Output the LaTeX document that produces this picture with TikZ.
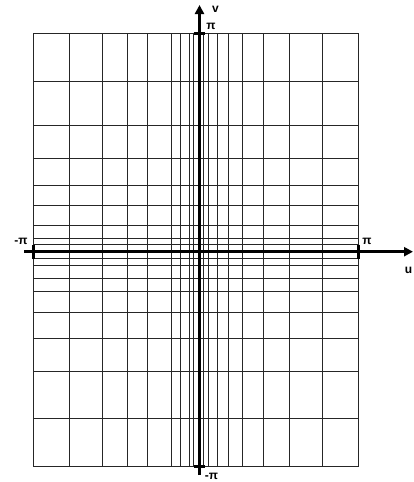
\documentclass[tikz,border=0pt]{standalone}
\usepackage{fontspec}
\setmainfont{Liberation Sans}
\usetikzlibrary{arrows.meta}
\begin{document}
\begin{tikzpicture}[x=1pt,y=-1pt,
  gridline/.style={line width=0.9pt,black!85},
  axisline/.style={line width=3pt,black,-{Triangle[length=9pt,width=9pt]}},
  tickmark/.style={line width=3pt,black},
  lab/.style={font=\bfseries\fontsize{12}{13}\selectfont,inner sep=0pt}]
\useasboundingbox (0,0) rectangle (413,482);
% vertical grid lines
\foreach \xx in {33.3,69.3,102.3,127.7,147.3,171,180.7,189.2,193.8,203.8,208.4,217,228.3,242.7,263.3,289,322.7,358.7}
  \draw[gridline] (\xx,33.3) -- (\xx,466.7);
% horizontal grid lines
\foreach \yy in {33.3,81.7,125,158.3,185,205.7,225.7,238.3,244.3,258.3,265.7,278.3,291.7,312.7,338.3,371.7,418.3,466.7}
  \draw[gridline] (33.3,\yy) -- (358.7,\yy);
% axes
\coordinate (vbot) at (199.5,475);
\coordinate (vtop) at (199.5,5);
\coordinate (uleft) at (24,251.7);
\coordinate (uright) at (413,251.7);
\draw[axisline] (vbot) -- (vtop);
\draw[axisline] (uleft) -- (uright);
% ticks
\draw[tickmark] (33.3,244.5) -- (33.3,259);
\draw[tickmark] (358.7,244.5) -- (358.7,259);
\draw[tickmark] (193.5,33.3) -- (205,33.3);
\draw[tickmark] (193.5,466.7) -- (205,466.7);
% labels
\node[lab] (vl) at (215.5,9) {v};
\node[lab] (ul) at (408.5,270) {u};
\node[lab] (ptop) at (211,26) {π};
\node[lab] (pbot) at (211.5,476.5) {-π};
\node[lab] (pleft) at (21,241.5) {-π};
\node[lab] (pright) at (367,241.5) {π};
\end{tikzpicture}
\end{document}
